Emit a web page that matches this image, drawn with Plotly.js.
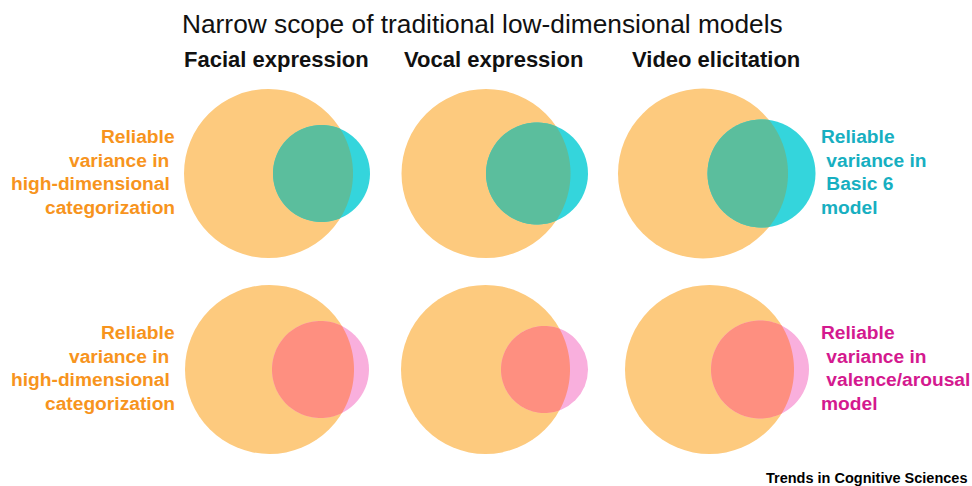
<!DOCTYPE html>
<html>
<head>
<meta charset="utf-8">
<script src="https://cdn.plot.ly/plotly-3.0.1.min.js"></script>
<style>html,body{margin:0;padding:0;background:#fff;}#chart{width:972px;height:486px;}</style>
</head>
<body>
<div id="chart"></div>
<script>
// ---- data (units = px of the reference) ----
var categories = ["Facial expression", "Vocal expression", "Video elicitation"];
var chartTitle = "Narrow scope of traditional low-dimensional models";
// reliable variance in high-dimensional categorization (big circle radius)
var highDimRadiusTop = [84.5, 84.5, 85];
var highDimRadiusBottom = [84.5, 84.5, 84.5];
// Basic 6 model: radius and centre distance from big circle
var basic6Radius = [48.5, 51, 54];
var basic6Offset = [53, 51, 58.5];
// valence/arousal model: radius and centre distance from big circle
var vaRadius = [48.5, 43.5, 49];
var vaOffset = [51, 59, 50.5];
var leftLabel = ["Reliable", "variance in\u00a0", "high-dimensional\u00a0", "categorization"];
var basic6Label = ["Reliable", "\u00a0variance in", "\u00a0Basic 6", "model"];
var vaLabel = ["Reliable", "\u00a0variance in", "\u00a0valence/arousal", "model"];
var credit = "Trends in Cognitive Sciences";

// ---- layout constants ----
var colXTop = [268.5, 486, 703];
var colXBottom = [269.5, 485.5, 709.5];
var rowY = [173.5, 369.5];
var subtitleX = [276, 493, 716];

var C = {
  orange: "#FDCA7E", cyan: "#34D5DC", green: "#5BBE9D",
  pink: "#F9AFDD", salmon: "#FE8F80",
  orangeText: "#F7941D", cyanText: "#17AFC1", magentaText: "#D4198F"
};

function circleShape(cx, cy, r, color) {
  return {type: "circle", xref: "x", yref: "y", x0: cx - r, x1: cx + r, y0: cy - r, y1: cy + r,
          fillcolor: color, line: {width: 0}, layer: "above"};
}
function lensShape(cx, cy, R, d, r, color) {
  var pts = [];
  var n = 90, i, t;
  if (d + r <= R) {
    for (i = 0; i <= 2 * n; i++) { t = Math.PI * i / n; pts.push([cx + d + r * Math.cos(t), cy + r * Math.sin(t)]); }
  } else {
    var a = (d * d + R * R - r * r) / (2 * d);
    var h = Math.sqrt(R * R - a * a);
    var th = Math.atan2(h, a);
    var ph = Math.atan2(h, a - d);
    for (i = 0; i <= n; i++) { t = -th + 2 * th * i / n; pts.push([cx + R * Math.cos(t), cy + R * Math.sin(t)]); }
    for (i = 0; i <= n; i++) { t = ph + (2 * Math.PI - 2 * ph) * i / n; pts.push([cx + d + r * Math.cos(t), cy + r * Math.sin(t)]); }
  }
  var path = pts.map(function (p, k) { return (k ? "L" : "M") + p[0].toFixed(2) + "," + p[1].toFixed(2); }).join(" ") + " Z";
  return {type: "path", xref: "x", yref: "y", path: path, fillcolor: color, line: {width: 0}, layer: "above"};
}

var shapes = [];
for (var k = 0; k < 3; k++) {
  shapes.push(circleShape(colXTop[k], rowY[0], highDimRadiusTop[k], C.orange));
  shapes.push(circleShape(colXTop[k] + basic6Offset[k], rowY[0], basic6Radius[k], C.cyan));
  shapes.push(lensShape(colXTop[k], rowY[0], highDimRadiusTop[k], basic6Offset[k], basic6Radius[k], C.green));
  shapes.push(circleShape(colXBottom[k], rowY[1], highDimRadiusBottom[k], C.orange));
  shapes.push(circleShape(colXBottom[k] + vaOffset[k], rowY[1], vaRadius[k], C.pink));
  shapes.push(lensShape(colXBottom[k], rowY[1], highDimRadiusBottom[k], vaOffset[k], vaRadius[k], C.salmon));
}

var FONT = "Liberation Sans, Arial, sans-serif";
var ann = [];
function txt(t, x, y, size, color, bold, xanchor) {
  ann.push({text: t, x: x, y: y, xref: "x", yref: "y", showarrow: false, xanchor: xanchor || "center", yanchor: "middle",
            font: {family: FONT, size: size, color: color, weight: bold ? "bold" : "normal"}});
}
txt(chartTitle, 482, 24, 26.3, "#111", false);
for (k = 0; k < 3; k++) txt(categories[k], subtitleX[k], 59.5, 22, "#111", true);
var lineY = [136, 160, 183.5, 207];
for (var row = 0; row < 2; row++) {
  for (var j = 0; j < 4; j++) {
    txt(leftLabel[j], 177, lineY[j] + row * 196, 19.2, C.orangeText, true, "right");
  }
}
for (j = 0; j < 4; j++) txt(basic6Label[j], 818.5, lineY[j], 19.2, C.cyanText, true, "left");
for (j = 0; j < 4; j++) txt(vaLabel[j], 818.5, lineY[j] + 196, 19.2, C.magentaText, true, "left");
txt(credit, 969, 477.5, 14.5, "#000", true, "right");

var layout = {
  width: 972, height: 486,
  margin: {l: 0, r: 0, t: 0, b: 0, pad: 0},
  paper_bgcolor: "#fff", plot_bgcolor: "#fff",
  showlegend: false,
  xaxis: {range: [0, 972], visible: false, fixedrange: true},
  yaxis: {range: [486, 0], visible: false, fixedrange: true},
  shapes: shapes,
  annotations: ann
};
Plotly.newPlot("chart", [{x: [], y: [], type: "scatter", mode: "markers", hoverinfo: "skip"}], layout, {staticPlot: true, displayModeBar: false});
</script>
</body>
</html>
